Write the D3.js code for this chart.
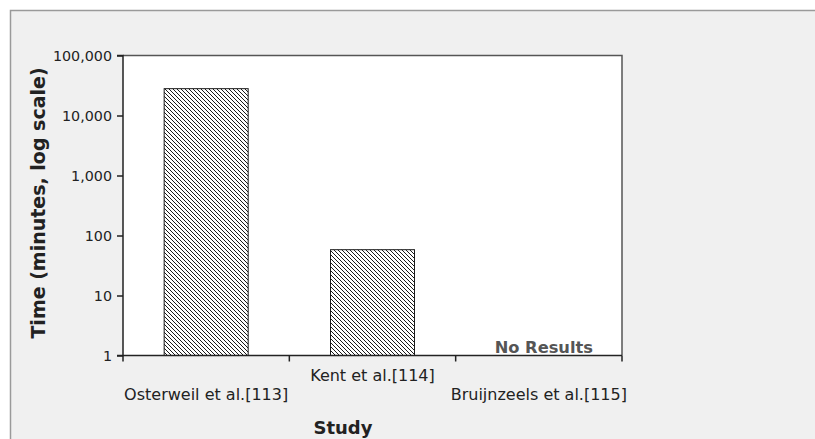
<!DOCTYPE html>
<html>
<head>
<meta charset="utf-8">
<script src="https://cdn.jsdelivr.net/npm/d3@7"></script>
<style>
  html, body { margin: 0; padding: 0; background: #ffffff; overflow: hidden; }
  svg { display: block; font-family: "DejaVu Sans", Verdana, sans-serif; }
</style>
</head>
<body>
<svg id="chart" width="815" height="439"></svg>
<script>
// Study categories and time values (minutes); null = no results reported
const studies = ["Osterweil et al.[113]", "Kent et al.[114]", "Bruijnzeels et al.[115]"];
const minutes = [28000, 58, null];
const yTicks = [1, 10, 100, 1000, 10000, 100000];
const yTitle = "Time (minutes, log scale)";
const xTitle = "Study";
const noResultLabel = "No Results";

const svg = d3.select("#chart");
const W = 815, H = 439;
const plot = { left: 123, right: 622, top: 55.5, bottom: 355.5 };

// Chart frame: only top and left edges fall inside the view
svg.append("rect")
  .attr("x", 10.5).attr("y", 10.5)
  .attr("width", W).attr("height", H)
  .attr("fill", "#f0f0f0");
svg.append("path")
  .attr("d", `M10.5,${H} V10.5 H${W}`)
  .attr("fill", "none")
  .attr("stroke", "#9a9a9a").attr("stroke-width", 1.5);

// Hatch pattern for bars (downward diagonal)
const defs = svg.append("defs");
const pat = defs.append("pattern")
  .attr("id", "hatch")
  .attr("patternUnits", "userSpaceOnUse")
  .attr("width", 4).attr("height", 4);
pat.append("rect").attr("width", 4).attr("height", 4).attr("fill", "#ffffff");
pat.append("path")
  .attr("d", "M-1,-1 L5,5 M-1,3 L1,5 M3,-1 L5,1")
  .attr("stroke", "#1a1a1a").attr("stroke-width", 1.2)
  .attr("shape-rendering", "crispEdges");

const x = d3.scaleBand()
  .domain(studies)
  .range([plot.left, plot.right])
  .paddingInner(0.495).paddingOuter(0.2475);

const y = d3.scaleLog()
  .domain([1, 100000])
  .range([plot.bottom, plot.top]);

// Plot area
svg.append("rect")
  .attr("x", plot.left).attr("y", plot.top)
  .attr("width", plot.right - plot.left)
  .attr("height", plot.bottom - plot.top)
  .attr("fill", "#ffffff");

// Top and right borders of plot area
svg.append("path")
  .attr("d", `M${plot.left},${plot.top} H${plot.right} V${plot.bottom}`)
  .attr("fill", "none")
  .attr("stroke", "#555555").attr("stroke-width", 1.5);

// Bars
const rows = studies.map((s, i) => ({ study: s, value: minutes[i] }));
svg.append("g").selectAll("rect")
  .data(rows.filter(d => d.value != null))
  .join("rect")
  .attr("x", d => x(d.study))
  .attr("y", d => y(d.value))
  .attr("width", x.bandwidth())
  .attr("height", d => y(1) - y(d.value))
  .attr("fill", "url(#hatch)")
  .attr("stroke", "#1a1a1a").attr("stroke-width", 1);

// "No Results" marker for studies without a value
svg.append("g").selectAll("text")
  .data(rows.filter(d => d.value == null))
  .join("text")
  .attr("x", d => x(d.study) + x.bandwidth() / 2 + 5)
  .attr("y", plot.bottom - 2.5)
  .attr("text-anchor", "middle")
  .attr("font-size", 16.3).attr("font-weight", "bold")
  .attr("fill", "#555555")
  .text(noResultLabel);

// Y axis
const yAxis = d3.axisLeft(y)
  .tickValues(yTicks)
  .tickFormat(d3.format(","))
  .tickSize(6).tickPadding(5);
const gy = svg.append("g")
  .attr("transform", `translate(${plot.left},0)`)
  .call(yAxis);
gy.select(".domain").attr("stroke", "#222").attr("stroke-width", 1.5)
  .attr("d", `M-6,${plot.top}H0V${plot.bottom}H-6`);
gy.selectAll(".tick line").attr("stroke", "#222").attr("stroke-width", 1.5);
gy.selectAll(".tick text")
  .attr("font-family", "DejaVu Sans, sans-serif")
  .attr("font-size", 14.3).attr("fill", "#222");

// X axis: ticks at category boundaries, staggered labels
const step = (plot.right - plot.left) / studies.length;
const gx = svg.append("g");
gx.append("line")
  .attr("x1", plot.left).attr("x2", plot.right)
  .attr("y1", plot.bottom).attr("y2", plot.bottom)
  .attr("stroke", "#222").attr("stroke-width", 1.5);
gx.selectAll("line.tk")
  .data(d3.range(studies.length + 1))
  .join("line")
  .attr("class", "tk")
  .attr("x1", i => plot.left + i * step).attr("x2", i => plot.left + i * step)
  .attr("y1", plot.bottom).attr("y2", plot.bottom + 6)
  .attr("stroke", "#222").attr("stroke-width", 1.5);
gx.selectAll("text")
  .data(studies)
  .join("text")
  .attr("x", d => x(d) + x.bandwidth() / 2)
  .attr("y", (d, i) => i % 2 === 1 ? 381 : 400)
  .attr("text-anchor", "middle")
  .attr("font-size", 16).attr("fill", "#222")
  .text(d => d);

// Axis titles
svg.append("text")
  .attr("transform", `translate(45,203) rotate(-90)`)
  .attr("text-anchor", "middle")
  .attr("font-size", 19).attr("font-weight", "bold").attr("fill", "#222")
  .text(yTitle);
svg.append("text")
  .attr("x", 343).attr("y", 434)
  .attr("text-anchor", "middle")
  .attr("font-size", 18).attr("font-weight", "bold").attr("fill", "#222")
  .text(xTitle);
</script>
</body>
</html>
